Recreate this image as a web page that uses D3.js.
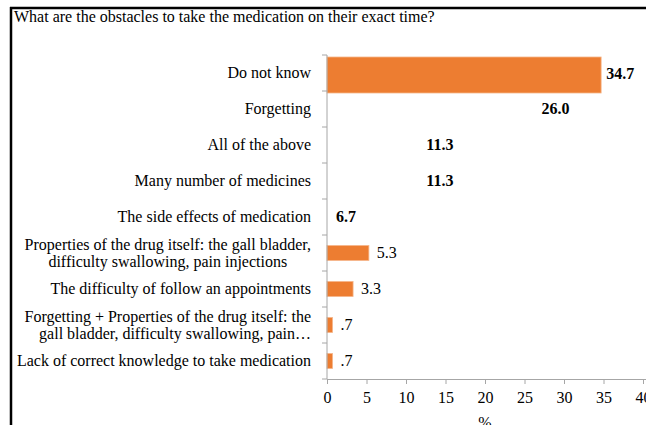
<!DOCTYPE html>
<html><head><meta charset="utf-8">
<script src="https://cdn.jsdelivr.net/npm/d3@7"></script>
<style>body{margin:0;background:#fff}svg{display:block}text{font-family:"Liberation Serif","Times New Roman",serif}</style>
</head><body>
<script>
const title = "What are the obstacles to take the medication on their exact time?";
const categories = [
  ["Do not know"],
  ["Forgetting"],
  ["All of the above"],
  ["Many number of medicines"],
  ["The side effects of medication"],
  ["Properties of the drug itself: the gall bladder,", "difficulty swallowing, pain injections"],
  ["The difficulty of follow an appointments"],
  ["Forgetting + Properties of the drug itself: the", "gall bladder, difficulty swallowing, pain\u2026"],
  ["Lack of correct knowledge to take medication"]
];
const values = [34.7, 26.0, 11.3, 11.3, 6.7, 5.3, 3.3, 0.7, 0.7];
const valueLabels = ["34.7", "26.0", "11.3", "11.3", "6.7", "5.3", "3.3", ".7", ".7"];
const xTicks = [0, 5, 10, 15, 20, 25, 30, 35, 40];
const axisTitle = "%";

const W = 646, H = 425;
const FS = 16;
const svg = d3.select("body").append("svg").attr("width", W).attr("height", H);

// frame
svg.append("line").attr("x1", 10).attr("x2", W).attr("y1", 8).attr("y2", 8).attr("stroke", "#000").attr("stroke-width", 2.5);
svg.append("line").attr("x1", 11).attr("x2", 11).attr("y1", 7).attr("y2", H).attr("stroke", "#000").attr("stroke-width", 2.5);

svg.append("text").attr("x", 14).attr("y", 22).attr("font-size", FS).attr("fill", "#000").text(title);

const idx = d3.range(values.length);
const x = d3.scaleLinear().domain([0, 40]).range([327, 643]);
const y = d3.scaleBand().domain(idx).range([55, 379]).padding(0);

const axisColor = "#a6a6a6";

// bars
const hidden = [false, true, true, true, true, false, false, false, false];
svg.selectAll("rect.bar").data(idx).join("rect")
  .attr("class", "bar")
  .attr("x", x(0))
  .attr("width", i => x(values[i]) - x(0))
  .attr("y", i => i === 0 ? y(i) + 2 : y(i) + y.bandwidth() / 2 - 7.5)
  .attr("height", i => i === 0 ? y.bandwidth() : 15)
  .attr("fill", i => hidden[i] ? "#fff" : "#ED7D31")
  .attr("stroke", i => hidden[i] ? "none" : "#f5b68a")
  .attr("stroke-width", 0.8);

// y axis
svg.append("line").attr("x1", x(0)).attr("x2", x(0)).attr("y1", 55).attr("y2", 379).attr("stroke", axisColor);
const yTicks = d3.range(values.length + 1);
svg.selectAll("line.ytick").data(yTicks).join("line").attr("class", "ytick")
  .attr("x1", x(0) - 5).attr("x2", x(0))
  .attr("y1", i => 55 + i * y.bandwidth()).attr("y2", i => 55 + i * y.bandwidth())
  .attr("stroke", axisColor);

// x axis
const xAxis = d3.axisBottom(x).tickValues(xTicks).tickSize(5).tickSizeOuter(0).tickFormat(d3.format("d"));
const gx = svg.append("g").attr("transform", "translate(0,379)").call(xAxis);
gx.select(".domain").attr("stroke", axisColor).attr("d", `M${x(0)},0.5H${x(40) + 3}`);
gx.selectAll(".tick line").attr("stroke", axisColor);
gx.selectAll(".tick text").attr("font-size", FS).attr("fill", "#000").attr("y", 13).attr("dy", "0.71em")
  .attr("font-family", "Liberation Serif");

svg.append("text").attr("x", (x(0) + x(40)) / 2).attr("y", 428).attr("text-anchor", "middle")
  .attr("font-size", FS).text(axisTitle);

// category labels
const labelRight = 311;
idx.forEach(i => {
  const lines = categories[i];
  const cy = y(i) + y.bandwidth() / 2;
  if (lines.length === 1) {
    svg.append("text").attr("font-size", FS).attr("x", labelRight).attr("y", cy + 5)
      .attr("text-anchor", "end").text(lines[0]);
  } else {
    const truncated = lines[lines.length - 1].endsWith("\u2026");
    const tmp = svg.append("text").attr("font-size", FS);
    const widths = lines.map(l => { tmp.text(l); return tmp.node().getComputedTextLength(); });
    tmp.remove();
    const mw = d3.max(widths);
    const cx = labelRight - mw / 2;
    lines.forEach((l, k) => {
      svg.append("text").attr("font-size", FS)
        .attr("text-anchor", truncated ? "end" : "middle")
        .attr("x", truncated ? labelRight : cx)
        .attr("y", cy + 5 + (k - (lines.length - 1) / 2) * 17).text(l);
    });
  }
});

// value labels
const labelOffset = [5, 9, 10, 10, null, 8, 8, 8, 8];
idx.forEach(i => {
  const cy = y(i) + y.bandwidth() / 2;
  const lx = labelOffset[i] === null ? x(0) + 9 : x(values[i]) + labelOffset[i];
  svg.append("text").attr("x", lx).attr("y", cy + 5 + (i === 0 ? 1 : 0))
    .attr("font-size", FS)
    .attr("font-weight", hidden[i] || i === 0 ? "bold" : "normal")
    .text(valueLabels[i]);
});
</script>
</body></html>
